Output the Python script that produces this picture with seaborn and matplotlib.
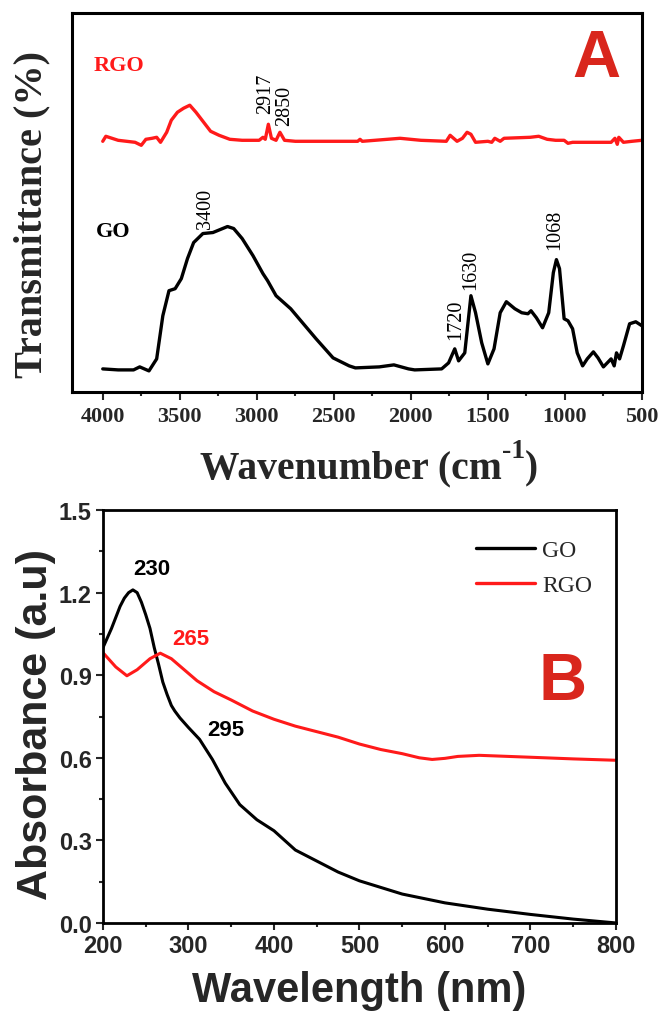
import numpy as np
import pandas as pd
import matplotlib
matplotlib.use("Agg")
import matplotlib.pyplot as plt
import seaborn as sns

# ---------------- Panel A: FTIR (arbitrary transmittance units) ----------------
go_ir_wn = [4000, 3900, 3800, 3760, 3700, 3650, 3610, 3570, 3530, 3490, 3450, 3410,
            3350, 3285, 3190, 3150, 3095, 3025, 2960, 2930, 2875, 2780, 2725, 2615,
            2505, 2400, 2360, 2205, 2110, 2015, 1975, 1800, 1755, 1715, 1690, 1650,
            1610, 1580, 1540, 1500, 1460, 1420, 1380, 1325, 1280, 1240, 1220, 1185,
            1145, 1105, 1075, 1055, 1035, 1005, 980, 950, 920, 885, 855, 815, 785,
            750, 700, 680, 665, 645, 620, 580, 540, 500]
go_ir_t = [23, 22, 22, 25, 21, 33, 76, 101, 103, 113, 133, 149,
           158, 159, 165, 163, 153, 136, 118, 111, 96, 83, 73, 53,
           34, 26, 24, 25, 27, 23, 22, 23, 29, 43, 31, 39,
           96, 79, 49, 28, 43, 79, 90, 83, 79, 78, 81, 74,
           64, 79, 119, 132, 123, 73, 71, 63, 39, 26, 33, 40, 34,
           25, 33, 26, 39, 33, 46, 68, 70, 66]

rgo_ir_wn = [4000, 3980, 3900, 3790, 3750, 3720, 3680, 3650, 3625, 3585, 3555, 3515,
             3475, 3435, 3395, 3355, 3300, 3245, 3175, 3095, 2985, 2960, 2945, 2925,
             2905, 2875, 2850, 2820, 2750, 2345, 2330, 2315, 2070, 1935, 1770, 1745,
             1700, 1665, 1635, 1610, 1580, 1500, 1475, 1455, 1420, 1395, 1225, 1170,
             1115, 1060, 1005, 980, 950, 840, 700, 675, 660, 650, 620, 565, 500]
rgo_ir_t = [250, 255, 251, 249, 246, 252, 253, 254, 249, 259, 271, 279,
            283, 286, 279, 271, 260, 256, 252, 251, 251, 254, 252, 267,
            253, 251, 259, 251, 250, 250, 252, 250, 253, 251, 250, 256,
            250, 253, 259, 257, 249, 250, 249, 253, 250, 253, 254, 255,
            252, 251, 251, 248, 249, 249, 249, 253, 247, 254, 249, 250, 251]

ir_peaks = ["3400", "2917", "2850", "1720", "1630", "1068"]
ir_peak_x = [3335, 2942, 2820, 1707, 1611, 1065]
ir_peak_y = [164, 278, 266, 53, 103, 143]

# ---------------- Panel B: UV-Vis ----------------
go_uv_x = [200, 205, 210, 215, 220, 225, 230, 235, 240, 245, 250, 255, 260, 265, 270,
           275, 280, 284, 290, 300, 313, 328, 343, 360, 380, 400, 425, 450, 475, 500,
           550, 600, 650, 700, 750, 800]
go_uv_y = [1.00, 1.035, 1.07, 1.11, 1.15, 1.18, 1.20, 1.21, 1.20, 1.165, 1.12, 1.07,
           1.00, 0.94, 0.875, 0.83, 0.79, 0.77, 0.745, 0.71, 0.667, 0.594, 0.508, 0.43,
           0.375, 0.335, 0.265, 0.225, 0.185, 0.153, 0.105, 0.073, 0.05, 0.031, 0.014,
           0.0]
rgo_uv_x = [200, 215, 228, 240, 255, 267, 280, 295, 310, 330, 350, 375, 400, 425,
            450, 475, 500, 525, 550, 570, 585, 600, 615, 640, 700, 750, 800]
rgo_uv_y = [0.982, 0.93, 0.898, 0.92, 0.96, 0.98, 0.96, 0.92, 0.88, 0.84, 0.81, 0.77,
            0.74, 0.715, 0.695, 0.675, 0.65, 0.63, 0.615, 0.60, 0.594, 0.598, 0.605,
            0.609, 0.602, 0.596, 0.591]

uv_notes = ["230", "265", "295"]
uv_note_x = [257, 303, 344]
uv_note_y = [1.286, 1.035, 0.704]
uv_note_c = ["black", "#ff1a1a", "black"]

sns.set_theme(style="white")
plt.rcParams["font.family"] = ["Liberation Serif", "DejaVu Serif"]

SANS = ["Liberation Sans", "DejaVu Sans"]
RED = "#ff1a1a"
LABEL_RED = "#d9261c"

fig = plt.figure(figsize=(6.6, 10.12), dpi=100)
axA = fig.add_axes([0.109, 0.6117, 0.8636, 0.3745])
axB = fig.add_axes([0.156, 0.087, 0.7773, 0.408])

# ---- Panel A ----
ir_go = pd.DataFrame({"wn": go_ir_wn, "t": go_ir_t})
ir_rgo = pd.DataFrame({"wn": rgo_ir_wn, "t": rgo_ir_t})
sns.lineplot(data=ir_go, x="wn", y="t", ax=axA, color="black", lw=2.4, sort=False)
sns.lineplot(data=ir_rgo, x="wn", y="t", ax=axA, color=RED, lw=2.4, sort=False)
axA.set_xlim(4200, 500)
axA.set_ylim(0, 378)
axA.set_xticks([4000, 3500, 3000, 2500, 2000, 1500, 1000, 500])
axA.set_xticks([3750, 3250, 2750, 2250, 1750, 1250, 750], minor=True)
axA.set_yticks([])
axA.tick_params(axis="x", which="major", direction="out", length=6, width=1.5,
                bottom=True, labelsize=16, pad=4)
axA.tick_params(axis="x", which="minor", direction="out", length=3, width=1.5, bottom=True)
for lab in axA.get_xticklabels():
    lab.set_fontweight("bold")
for s in axA.spines.values():
    s.set_linewidth(2.2)
    s.set_color("black")
axA.set_xlabel("")
axA.set_ylabel("Transmittance (%)", fontsize=29, fontweight="bold")
axA.yaxis.set_label_coords(-0.038, 0.47)

# x label built from pieces so the superscript "-1" uses a plain hyphen
t1 = fig.text(200 / 660, 1 - 478 / 1012, "Wavenumber (cm", fontsize=28.5,
              fontweight="bold", ha="left", va="baseline")
t2 = axA.annotate("-1", xy=(1.0, 0.62), xycoords=t1, fontsize=20, fontweight="bold",
                  ha="left", va="bottom", annotation_clip=False)
t3 = axA.annotate(")", xy=(1.0, 0.0), xycoords=(t2, t1), fontsize=28.5, fontweight="bold",
                  ha="left", va="bottom", annotation_clip=False)

axA.text(4060, 326, "RGO", color=RED, fontsize=16, fontweight="bold", va="center", ha="left")
axA.text(4045, 161, "GO", color="black", fontsize=16, fontweight="bold", va="center", ha="left")
for lbl, x, y in zip(ir_peaks, ir_peak_x, ir_peak_y):
    axA.text(x, y, lbl, rotation=90, fontsize=14.5, ha="center", va="bottom", color="black")
axA.text(795, 332, "A", color=LABEL_RED, fontsize=48, fontweight="bold", ha="center",
         va="center", family=SANS)

# ---- Panel B ----
uv_go = pd.DataFrame({"wl": go_uv_x, "a": go_uv_y})
uv_rgo = pd.DataFrame({"wl": rgo_uv_x, "a": rgo_uv_y})
sns.lineplot(data=uv_go, x="wl", y="a", ax=axB, color="black", lw=2.2, label="GO")
sns.lineplot(data=uv_rgo, x="wl", y="a", ax=axB, color=RED, lw=2.2, label="RGO")
axB.set_xlim(200, 800)
axB.set_ylim(0, 1.5)
axB.set_xticks([200, 300, 400, 500, 600, 700, 800])
axB.set_xticks([250, 350, 450, 550, 650, 750], minor=True)
axB.set_yticks([0.0, 0.3, 0.6, 0.9, 1.2, 1.5])
axB.set_yticks([0.15, 0.45, 0.75, 1.05, 1.35], minor=True)
axB.set_yticklabels(["0.0", "0.3", "0.6", "0.9", "1.2", "1.5"])
axB.tick_params(axis="both", which="major", direction="out", length=5, width=1.5,
                bottom=True, left=True, labelsize=17, pad=3)
axB.tick_params(axis="both", which="minor", direction="out", length=3, width=1.5,
                bottom=True, left=True)
for lab in axB.get_xticklabels() + axB.get_yticklabels():
    lab.set_fontweight("bold")
    lab.set_family(SANS)
for s in axB.spines.values():
    s.set_linewidth(2.0)
    s.set_color("black")
axB.set_xlabel("Wavelength (nm)", fontsize=30, fontweight="bold", labelpad=9, family=SANS)
axB.set_ylabel("Absorbance (a.u)", fontsize=31, fontweight="bold", family=SANS)
axB.yaxis.set_label_coords(-0.092, 0.483)
leg = axB.legend(loc="upper right", frameon=False, fontsize=17, handlelength=2.5,
                 handletextpad=0.3, borderaxespad=0.6, labelspacing=0.55,
                 bbox_to_anchor=(1.0, 0.985))
for line in leg.get_lines():
    line.set_linewidth(2.4)
for lbl, x, y, c in zip(uv_notes, uv_note_x, uv_note_y, uv_note_c):
    axB.text(x, y, lbl, fontsize=16, fontweight="bold", color=c, ha="center", va="center",
             family=SANS)
axB.text(738, 0.876, "B", color=LABEL_RED, fontsize=48, fontweight="bold", ha="center",
         va="center", family=SANS)

fig.savefig("out.png", dpi=100)
